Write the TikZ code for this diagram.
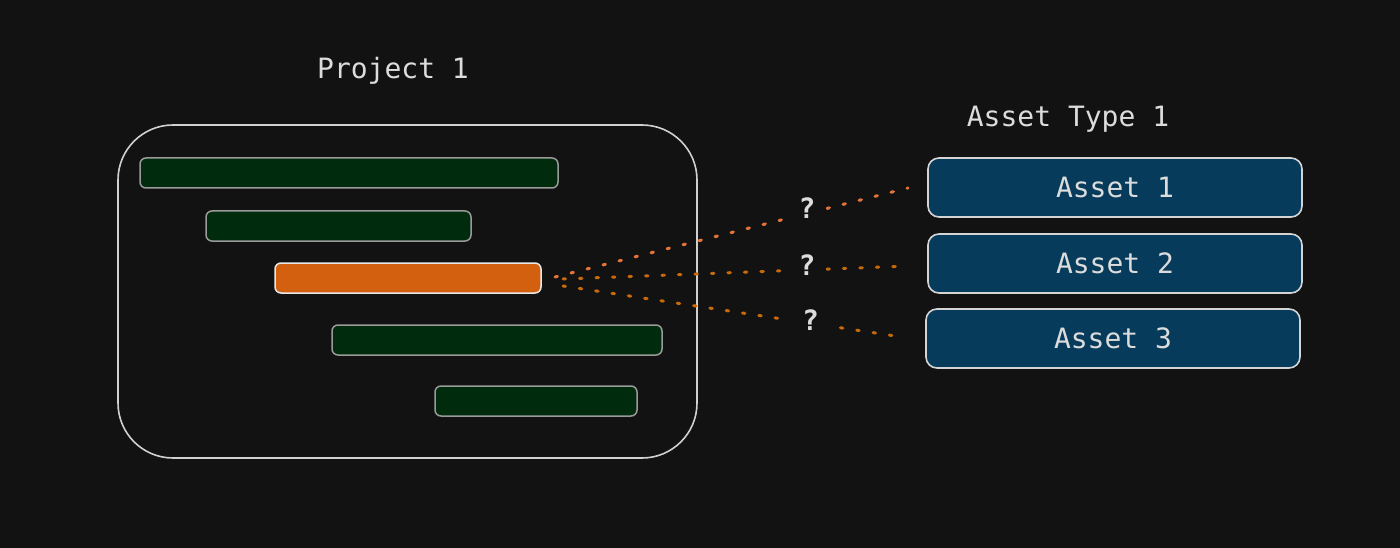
\documentclass[tikz,border=0pt]{standalone}
\usepackage{fontspec}
\setmonofont{DejaVu Sans Mono}
\usetikzlibrary{calc}
\definecolor{bg}{HTML}{121212}
\definecolor{txt}{HTML}{DCDCDC}
\definecolor{framec}{HTML}{D0D0D0}
\definecolor{greenf}{HTML}{012B0D}
\definecolor{greens}{HTML}{9A9A9A}
\definecolor{orangef}{HTML}{D2600F}
\definecolor{oranges}{HTML}{E8E8E8}
\definecolor{assetf}{HTML}{073B5C}
\definecolor{assets}{HTML}{D4D4D4}
\definecolor{dotA}{HTML}{E4743A}
\definecolor{dotB}{HTML}{C96A0A}
\tikzset{
  lbl/.style={font=\ttfamily\fontsize{28}{30}\selectfont, text=txt, inner sep=0pt},
  projbox/.style={draw=framec, line width=1.6pt, rounded corners=55pt, minimum width=579pt, minimum height=333pt, inner sep=0pt, outer sep=0pt},
  gbar/.style={draw=greens, fill=greenf, line width=1.5pt, rounded corners=6pt, minimum height=30pt, inner sep=0pt, outer sep=0pt},
  obar/.style={draw=oranges, fill=orangef, line width=1.5pt, rounded corners=6pt, minimum height=30pt, inner sep=0pt, outer sep=0pt},
  assetbox/.style={draw=assets, fill=assetf, line width=1.6pt, rounded corners=11pt, minimum width=374pt, minimum height=59pt, inner sep=0pt, outer sep=0pt, font=\ttfamily\fontsize{28}{30}\selectfont, text=txt},
  dotline/.style={line width=3pt, line cap=round, dash pattern=on 2.5pt off 14pt},
  qmark/.style={font=\ttfamily\bfseries\fontsize{28}{30}\selectfont, text=txt, fill=bg, inner xsep=11pt, inner ysep=3pt}
}
\begin{document}
\begin{tikzpicture}[x=1pt,y=-1pt]
\fill[bg] (0,0) rectangle (1400,548);
\useasboundingbox (0,0) rectangle (1400,548);

\node[lbl] (ptitle) at (393,71) {Project 1};
\node[lbl] (atitle) at (1068,119) {Asset Type 1};

\node[projbox] (proj) at (407.5,291.5) {};
\node[gbar, minimum width=418pt] (b1) at (349,173) {};
\node[gbar, minimum width=265pt] (b2) at (338.5,226) {};
\node[obar, minimum width=266pt] (o) at (408,278) {};
\node[gbar, minimum width=330pt] (b4) at (497,340) {};
\node[gbar, minimum width=202pt] (b5) at (536,401) {};

\node[assetbox] (a1) at (1115,187.5) {Asset 1};
\node[assetbox] (a2) at (1115,263.5) {Asset 2};
\node[assetbox] (a3) at (1113,338.5) {Asset 3};

\coordinate (s1) at ($(o.east)+(14,-1)$);
\coordinate (s2) at ($(o.east)+(22,1)$);
\coordinate (s3) at ($(o.east)+(22,8)$);
\coordinate (e1) at ($(a1.west)+(-20,0.5)$);
\coordinate (e2) at ($(a2.west)+(-19,2.5)$);
\coordinate (e3) at ($(a3.west)+(-24,-1.5)$);

\draw[dotline, dotA] (s1) -- node[qmark, pos=0.714, yshift=5pt] {?} (e1);
\draw[dotline, dotB] (s2) -- node[qmark, pos=0.705, yshift=5pt] {?} (e2);
\draw[dotline, dotB] (s3) -- node[qmark, pos=0.73, yshift=3pt, inner xsep=14pt] {?} (e3);
\end{tikzpicture}
\end{document}
